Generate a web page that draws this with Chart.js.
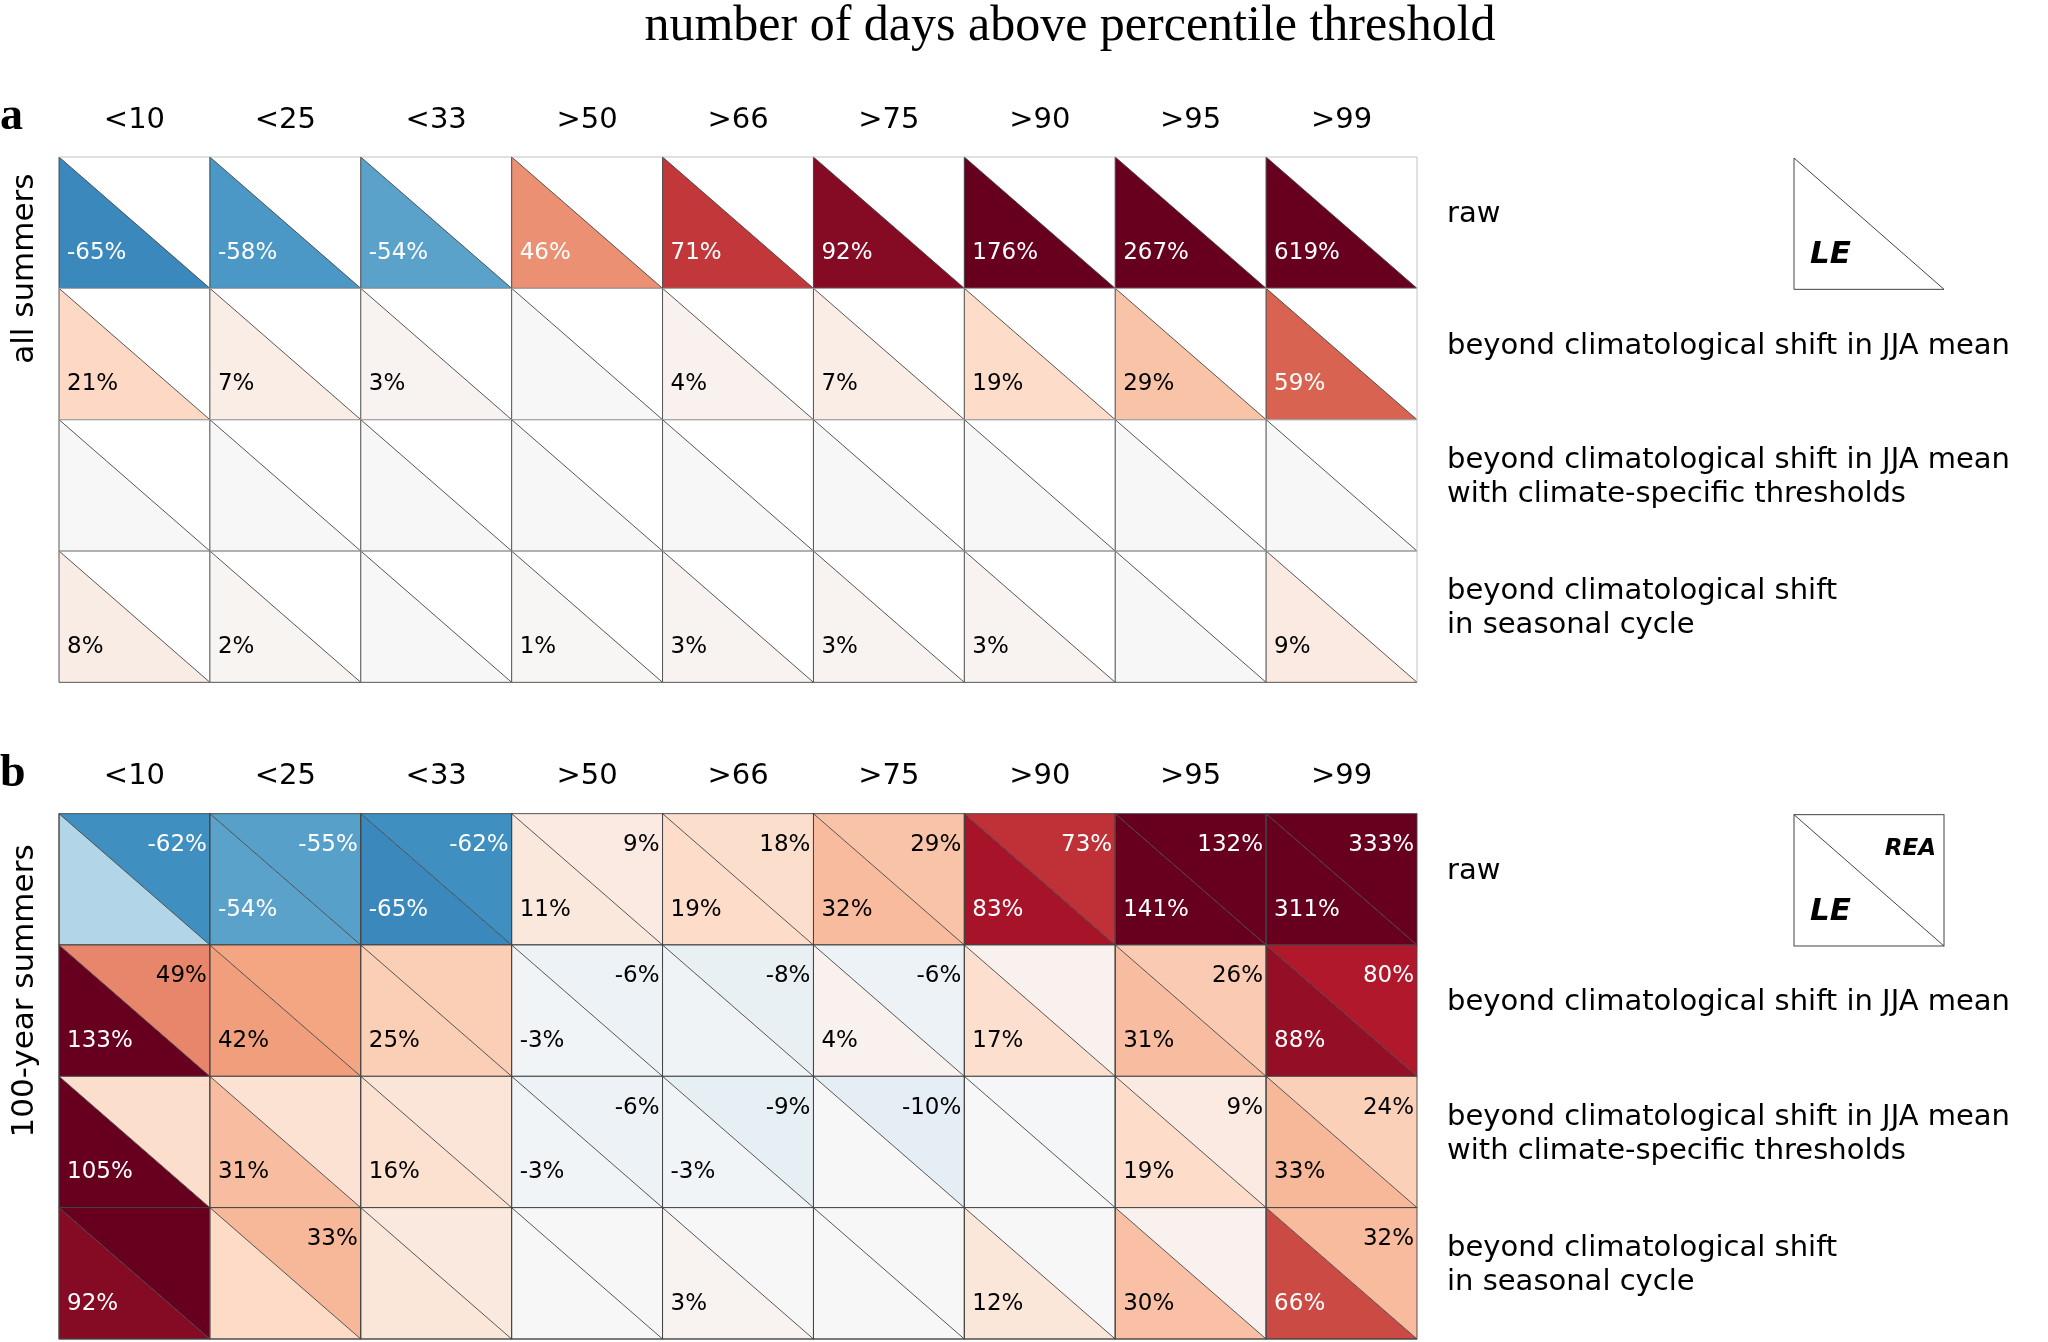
<!DOCTYPE html>
<html><head><meta charset="utf-8">
<script src="https://cdn.jsdelivr.net/npm/chart.js@4/dist/chart.umd.min.js"></script>
<style>html,body{margin:0;padding:0;background:#fff}#c{display:block}</style>
</head><body><div style="width:2048px;height:1342px"><canvas id="c"></canvas></div>
<script>
const categories = ["<10","<25","<33",">50",">66",">75",">90",">95",">99"];
const rowLabels = [["raw"],["beyond climatological shift in JJA mean"],["beyond climatological shift in JJA mean","with climate-specific thresholds"],["beyond climatological shift","in seasonal cycle"]];
// Panel a (LE only)
const aRaw  = [-65,-58,-54,46,71,92,176,267,619];
const aJJA  = [21,7,3,0,4,7,19,29,59];
const aClim = [0,0,0,0,0,0,0,0,0];
const aSeas = [8,2,0,1,3,3,3,0,9];
const aShown = [[1,1,1,1,1,1,1,1,1],[1,1,1,0,1,1,1,1,1],[0,0,0,0,0,0,0,0,0],[1,1,0,1,1,1,1,0,1]];
// Panel b LE (lower-left) and REA (upper-right)
const bRawLE  = [-30,-54,-65,11,19,32,83,141,311];
const bRawREA = [-62,-55,-62,9,18,29,73,132,333];
const bJJALE  = [133,42,25,-3,-4,4,17,31,88];
const bJJAREA = [49,40,25,-6,-8,-6,4,26,80];
const bClimLE = [105,31,16,-3,-3,0,0,19,33];
const bClimREA= [18,15,13,-6,-9,-10,-1,9,24];
const bSeasLE = [92,20,12,0,3,0,12,30,66];
const bSeasREA= [120,33,10,0,0,0,0,4,32];
const bShownLE  = [[0,1,1,1,1,1,1,1,1],[1,1,1,1,0,1,1,1,1],[1,1,1,1,1,0,0,1,1],[1,0,0,0,1,0,1,1,1]];
const bShownREA = [[1,1,1,1,1,1,1,1,1],[1,0,0,1,1,1,0,1,1],[0,0,0,1,1,1,0,1,1],[0,1,0,0,0,0,0,0,1]];

const stops = ["#053061","#2166ac","#4393c3","#92c5de","#d1e5f0","#f7f7f7","#fddbc7","#f4a582","#d6604d","#b2182b","#67001f"];
function hex(h){return [1,3,5].map(i=>parseInt(h.substr(i,2),16));}
function cmap(v){let t=Math.max(0,Math.min(1,(v+100)/200))*10;let i=Math.min(9,Math.floor(t));let f=t-i;
 const a=hex(stops[i]),b=hex(stops[i+1]);return `rgb(${a.map((x,k)=>Math.round(x+(b[k]-x)*f)).join(',')})`;}
function txtCol(v){return Math.abs(v)>=45&&v!==49?"#fff":"#000";}

const panels=[
 {y0:0,le:[aRaw,aJJA,aClim,aSeas],leShown:aShown,rea:null,letter:"a",ylab:"all summers"},
 {y0:5,le:[bRawLE,bJJALE,bClimLE,bSeasLE],leShown:bShownLE,rea:[bRawREA,bJJAREA,bClimREA,bSeasREA],reaShown:bShownREA,letter:"b",ylab:"100-year summers"}
];

const plugin={id:"tri",afterDraw(ch){
 const ctx=ch.ctx,xs=ch.scales.x,ys=ch.scales.y;
 const X=v=>xs.getPixelForValue(v),Y=v=>ys.getPixelForValue(v);
 ctx.save();
 ctx.fillStyle="#000";ctx.textAlign="center";ctx.textBaseline="alphabetic";
 ctx.font="50px 'Liberation Serif'";
 ctx.fillText("number of days above percentile threshold",1070,40);
 panels.forEach(p=>{
  const cw=X(1)-X(0),rh=Y(p.y0+1)-Y(p.y0);
  ctx.fillStyle="#000";ctx.font="29px 'DejaVu Sans'";ctx.textAlign="center";ctx.textBaseline="middle";
  categories.forEach((c,i)=>ctx.fillText(c,X(i+0.5),Y(p.y0)-37));
  ctx.font="bold 46px 'Liberation Serif'";ctx.textAlign="left";
  ctx.fillText(p.letter,0,Y(p.y0)-40);
  ctx.save();ctx.translate(25,Y(p.y0)+(p.y0?1.35:0.85)*rh);ctx.rotate(-Math.PI/2);
  ctx.font="31px 'DejaVu Sans'";ctx.textAlign="center";ctx.fillText(p.ylab,0,0);ctx.restore();
  for(let r=0;r<4;r++){
   for(let c=0;c<9;c++){
    const l=X(c),rr=X(c+1),t=Y(p.y0+r),b=Y(p.y0+r+1);
    const v=p.le[r][c];
    ctx.beginPath();ctx.moveTo(l,t);ctx.lineTo(l,b);ctx.lineTo(rr,b);ctx.closePath();
    ctx.fillStyle=cmap(v);ctx.fill();
    if(p.rea){const w=p.rea[r][c];ctx.beginPath();ctx.moveTo(l,t);ctx.lineTo(rr,t);ctx.lineTo(rr,b);ctx.closePath();ctx.fillStyle=cmap(w);ctx.fill();}
    ctx.strokeStyle="#444";ctx.lineWidth=0.9;
    ctx.beginPath();ctx.moveTo(l,t);ctx.lineTo(l,b);ctx.lineTo(rr,b);ctx.lineTo(l,t);ctx.stroke();
    if(p.rea){ctx.strokeRect(l,t,rr-l,b-t);}
    else {ctx.strokeStyle="#bbb";ctx.beginPath();ctx.moveTo(l,t);ctx.lineTo(rr,t);ctx.lineTo(rr,b);ctx.stroke();}
    ctx.font="23px 'DejaVu Sans'";ctx.textBaseline="middle";
    if(p.leShown[r][c]){ctx.fillStyle=txtCol(v);ctx.textAlign="left";ctx.fillText(v+"%",l+8,t+rh*0.73);}
    if(p.rea&&p.reaShown[r][c]){const w=p.rea[r][c];ctx.fillStyle=txtCol(w);ctx.textAlign="right";ctx.fillText(w+"%",rr-3,t+rh*0.24);}
   }
   ctx.fillStyle="#000";ctx.font="29px 'DejaVu Sans'";ctx.textAlign="left";
   const L=rowLabels[r],yc=Y(p.y0+r+0.5)-(p.y0?-4:4)*0;
   L.forEach((s,k)=>ctx.fillText(s,1447,yc+(k-(L.length-1)/2)*34-8+(L.length>1?0:0)));
  }
  // legend box
  const bx=1794,by=Y(p.y0)+1,bw=150,bh=rh;
  ctx.fillStyle="#fff";ctx.fillRect(bx,by,bw,bh);
  ctx.strokeStyle="#444";ctx.lineWidth=1;
  if(p.rea){ctx.strokeRect(bx,by,bw,bh);}
  else{ctx.beginPath();ctx.moveTo(bx,by);ctx.lineTo(bx,by+bh);ctx.lineTo(bx+bw,by+bh);ctx.stroke();}
  ctx.beginPath();ctx.moveTo(bx,by);ctx.lineTo(bx+bw,by+bh);ctx.stroke();
  ctx.fillStyle="#000";ctx.font="italic bold 31px 'DejaVu Sans'";ctx.textAlign="left";
  ctx.fillText("LE",bx+16,by+bh*0.74);
  if(p.rea){ctx.font="italic bold 23px 'DejaVu Sans'";ctx.textAlign="right";ctx.fillText("REA",bx+bw-8,by+bh*0.26);}
 });
 ctx.restore();
}};

new Chart(document.getElementById("c"),{type:"scatter",data:{datasets:[{data:[]}]},
 options:{responsive:true,maintainAspectRatio:false,animation:false,
  layout:{padding:{left:59,right:631,top:157,bottom:3}},
  plugins:{legend:{display:false},tooltip:{enabled:false}},
  scales:{x:{type:"linear",min:0,max:9,display:false},y:{type:"linear",min:0,max:9,reverse:true,display:false}}},
 plugins:[plugin]});
</script></body></html>
